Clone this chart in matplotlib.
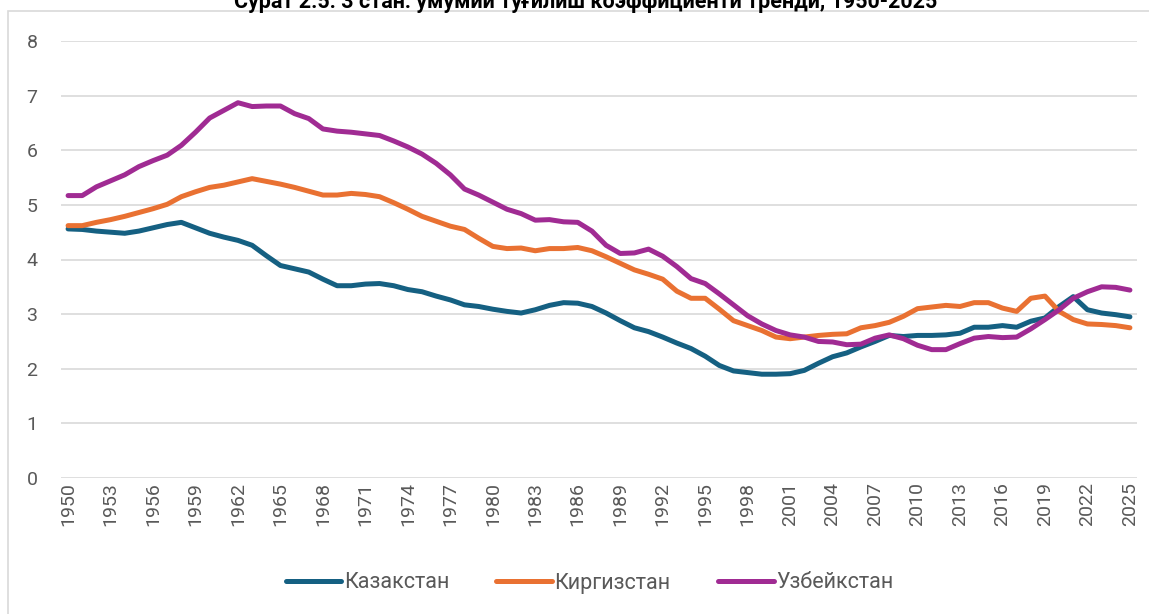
import matplotlib
matplotlib.use("Agg")
from matplotlib import pyplot as plt
from matplotlib.patches import Rectangle

plt.rcParams['font.family'] = ['Roboto', 'DejaVu Sans']

years = list(range(1950, 2026))

kazakhstan = [4.56, 4.55, 4.52, 4.50, 4.48, 4.52, 4.58, 4.64, 4.68, 4.58,
              4.48, 4.41, 4.35, 4.26, 4.07, 3.89, 3.83, 3.77, 3.64, 3.52,
              3.52, 3.55, 3.56, 3.52, 3.45, 3.41, 3.33, 3.26, 3.17, 3.14,
              3.09, 3.05, 3.02, 3.08, 3.16, 3.21, 3.20, 3.14, 3.02, 2.88,
              2.75, 2.68, 2.58, 2.47, 2.37, 2.23, 2.06, 1.96, 1.93, 1.90,
              1.90, 1.91, 1.97, 2.10, 2.22, 2.29, 2.40, 2.50, 2.61, 2.59,
              2.61, 2.61, 2.62, 2.65, 2.76, 2.76, 2.79, 2.76, 2.87, 2.93,
              3.14, 3.32, 3.08, 3.02, 2.99, 2.95]

kyrgyzstan = [4.62, 4.62, 4.68, 4.73, 4.79, 4.86, 4.93, 5.01, 5.15, 5.24,
              5.32, 5.36, 5.42, 5.48, 5.43, 5.38, 5.32, 5.25, 5.18, 5.18,
              5.21, 5.19, 5.15, 5.04, 4.92, 4.79, 4.70, 4.61, 4.55, 4.39,
              4.24, 4.20, 4.21, 4.16, 4.20, 4.20, 4.22, 4.16, 4.05, 3.93,
              3.81, 3.73, 3.64, 3.42, 3.29, 3.29, 3.09, 2.88, 2.79, 2.70,
              2.58, 2.55, 2.58, 2.61, 2.63, 2.64, 2.75, 2.79, 2.85, 2.96,
              3.10, 3.13, 3.16, 3.14, 3.21, 3.21, 3.11, 3.05, 3.29, 3.33,
              3.05, 2.90, 2.82, 2.81, 2.79, 2.75]

uzbekistan = [5.17, 5.17, 5.33, 5.44, 5.55, 5.70, 5.81, 5.91, 6.09, 6.33,
              6.59, 6.73, 6.87, 6.80, 6.81, 6.81, 6.67, 6.58, 6.39, 6.35,
              6.33, 6.30, 6.27, 6.17, 6.06, 5.93, 5.76, 5.55, 5.29, 5.18,
              5.05, 4.92, 4.84, 4.72, 4.73, 4.69, 4.68, 4.52, 4.26, 4.11,
              4.12, 4.19, 4.06, 3.87, 3.65, 3.56, 3.37, 3.17, 2.97, 2.82,
              2.70, 2.62, 2.58, 2.50, 2.49, 2.44, 2.45, 2.56, 2.62, 2.55,
              2.43, 2.35, 2.35, 2.46, 2.56, 2.59, 2.57, 2.58, 2.73, 2.90,
              3.08, 3.29, 3.41, 3.50, 3.49, 3.44]

series = [("Казакстан", kazakhstan, "#156082"),
          ("Киргизстан", kyrgyzstan, "#E97132"),
          ("Узбейкстан", uzbekistan, "#A02B93")]

fig = plt.figure(figsize=(11.49, 6.14), dpi=100)
# chart border (partly outside the picture)
fig.patches.append(Rectangle((8 / 1149, -0.1), 1.2, 1.1 - 11 / 614,
                             transform=fig.transFigure, fill=False,
                             edgecolor="#D9D9D9", linewidth=1.2))
# title sits above the frame and is cut at the top, as in the source
fig.text(0.51, 1 - 8 / 614, "Сурат 2.5. 3 стан: умумий туғилиш коэффициенти тренди, 1950-2025",
         ha="center", va="baseline", fontsize=15.5, fontweight="bold", color="black")

ax = fig.add_axes([61 / 1149, 136 / 614, 1076 / 1149, 437 / 614])
x = list(range(len(years)))
for name, vals, col in series:
    ax.plot(x, vals, color=col, lw=3.6, label=name, solid_capstyle="round",
            solid_joinstyle="round")

ax.set_xlim(-0.5, len(years) - 0.5)
ax.set_ylim(0, 8)
ax.set_yticks(range(0, 9))
ax.set_xticks(x[::3])
ax.set_xticklabels([str(y) for y in years[::3]], rotation=90)
ax.grid(axis="y", color="#D9D9D9", lw=1.2)
ax.set_axisbelow(True)
for s in ax.spines.values():
    s.set_visible(False)
ax.tick_params(length=0, colors="#595959", labelsize=14)
ax.tick_params(axis="y", pad=17)
ax.tick_params(axis="x", pad=3)

leg = fig.legend(loc="center", bbox_to_anchor=(0.513, 1 - 583 / 614), ncol=3,
                 frameon=False, fontsize=15.5, handlelength=2.6, handletextpad=0.1,
                 columnspacing=2.2)
for t in leg.get_texts():
    t.set_color("#595959")

fig.savefig("out.png", dpi=100)
